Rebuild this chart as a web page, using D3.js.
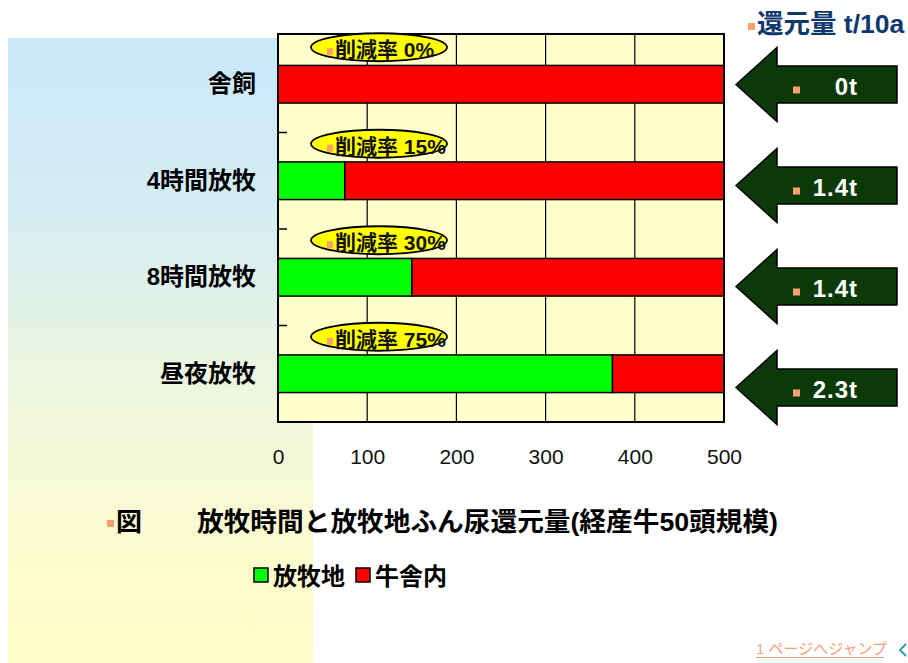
<!DOCTYPE html>
<html>
<head>
<meta charset="utf-8">
<script src="https://cdn.jsdelivr.net/npm/d3@7"></script>
<style>
  html, body { margin: 0; padding: 0; background: #ffffff; }
  svg { display: block; }
  text { font-family: "Liberation Sans", Arial, "Noto Sans CJK JP", sans-serif; }
</style>
</head>
<body>
<svg id="chart" width="908" height="663"></svg>
<script>
// Grazing hours vs. manure/urine returned to pasture (50 milking cows)
const categories = ["舎飼", "4時間放牧", "8時間放牧", "昼夜放牧"];
const pastureValues = [0, 75, 150, 375];     // 放牧地
const barnValues = [500, 425, 350, 125];     // 牛舎内
const returnLabels = ["0t", "1.4t", "1.4t", "2.3t"];
const xTicks = [0, 100, 200, 300, 400, 500];
const seriesNames = ["放牧地", "牛舎内"];
const seriesColors = ["#00ff00", "#ff0000"];

const svg = d3.select("#chart");
const CJK = '"Noto Sans CJK JP", "Liberation Sans", sans-serif';
const bulletColor = "#f8a070";

// Background panel with vertical gradient
const defs = svg.append("defs");
const grad = defs.append("linearGradient").attr("id", "panelGrad")
  .attr("x1", 0).attr("y1", 0).attr("x2", 0).attr("y2", 1);
grad.append("stop").attr("offset", "0%").attr("stop-color", "#cbe8fa");
grad.append("stop").attr("offset", "25%").attr("stop-color", "#d3ecf4");
grad.append("stop").attr("offset", "60%").attr("stop-color", "#f0f7dc");
grad.append("stop").attr("offset", "85%").attr("stop-color", "#fcfccc");
grad.append("stop").attr("offset", "100%").attr("stop-color", "#fdfdcb");
svg.append("rect").attr("x", 8).attr("y", 38).attr("width", 305).attr("height", 625)
  .attr("fill", "url(#panelGrad)");

// Scales
const x = d3.scaleLinear().domain([0, 500]).range([278, 724]);
const y = d3.scaleBand().domain(categories).range([36, 422])
  .paddingInner(0.61).paddingOuter(0.305);
const arrowY = d3.scaleBand().domain(categories).range([34, 438]);
const plotTop = 34, plotBottom = 422;

// Plot area
svg.append("rect").attr("x", x(0)).attr("y", plotTop)
  .attr("width", x(500) - x(0)).attr("height", plotBottom - plotTop)
  .attr("fill", "#ffffcc");

// Vertical gridlines
svg.append("g").selectAll("line").data(xTicks.slice(1, -1)).join("line")
  .attr("x1", d => x(d)).attr("x2", d => x(d))
  .attr("y1", plotTop).attr("y2", plotBottom)
  .attr("stroke", "#000").attr("stroke-width", 1.2);

// Category tick marks on the left axis (inside), at band boundaries
const step = y.step();
const boundaries = categories.slice(1).map(c => y(c) - (step - y.bandwidth()) / 2);
svg.append("g").selectAll("line").data(boundaries).join("line")
  .attr("x1", x(0)).attr("x2", x(0) + 9)
  .attr("y1", d => d).attr("y2", d => d)
  .attr("stroke", "#000").attr("stroke-width", 1.5);

// Stacked bars
const stackData = categories.map((c, i) => ({ cat: c, pasture: pastureValues[i], barn: barnValues[i] }));
const stacked = d3.stack().keys(["pasture", "barn"])(stackData);
svg.append("g").selectAll("g").data(stacked).join("g")
  .attr("fill", (d, i) => seriesColors[i])
  .selectAll("rect").data(d => d.filter(s => s[1] - s[0] > 0)).join("rect")
  .attr("x", d => x(d[0])).attr("width", d => x(d[1]) - x(d[0]))
  .attr("y", d => y(d.data.cat)).attr("height", y.bandwidth())
  .attr("stroke", "#000").attr("stroke-width", 1.5);

// Plot border
svg.append("rect").attr("x", x(0)).attr("y", plotTop)
  .attr("width", x(500) - x(0)).attr("height", plotBottom - plotTop)
  .attr("fill", "none").attr("stroke", "#000").attr("stroke-width", 2);

// X axis labels
const xAxis = d3.axisBottom(x).tickValues(xTicks).tickSize(0).tickPadding(0);
const xg = svg.append("g").attr("transform", `translate(0,${plotBottom})`).call(xAxis);
xg.select(".domain").remove();
xg.selectAll("text").attr("y", 42).attr("dy", null)
  .attr("font-family", '"Liberation Sans", Arial, sans-serif')
  .attr("font-size", 21).attr("fill", "#111");

// Category labels
svg.append("g").selectAll("text").data(categories).join("text")
  .attr("x", 256).attr("y", d => y(d) + y.bandwidth() / 2 + 8)
  .attr("text-anchor", "end").attr("font-family", CJK)
  .attr("font-weight", "bold").attr("font-size", 24).attr("fill", "#000")
  .text(d => d);

// Reduction-rate callouts
const callouts = svg.append("g").selectAll("g").data(categories).join("g")
  .attr("transform", d => `translate(${x(0) + 101},${y(d) + y.bandwidth() / 2 - 37})`);
callouts.append("ellipse").attr("rx", 68).attr("ry", 14)
  .attr("fill", "#ffff00").attr("stroke", "#000").attr("stroke-width", 1.8);
callouts.append("rect").attr("x", -52).attr("y", 1).attr("width", 6).attr("height", 7)
  .attr("fill", bulletColor);
callouts.append("text").attr("x", -44).attr("y", 10)
  .attr("font-family", CJK).attr("font-weight", "bold").attr("font-size", 21).attr("fill", "#111")
  .text((d, i) => {
    const rate = Math.round(pastureValues[i] / (pastureValues[i] + barnValues[i]) * 100);
    return `削減率 ${rate}%`;
  });

// Return-amount arrows
const arrows = svg.append("g").selectAll("g").data(categories).join("g")
  .attr("transform", d => `translate(0,${arrowY(d) + arrowY.bandwidth() / 2})`);
arrows.append("path")
  .attr("d", "M736,0 L777,-37 L777,-18.5 L897,-18.5 L897,18.5 L777,18.5 L777,37 Z")
  .attr("fill", "#0b3a08").attr("stroke", "#000").attr("stroke-width", 1.5);
arrows.append("rect").attr("x", 793).attr("y", 2).attr("width", 7).attr("height", 7)
  .attr("fill", bulletColor);
arrows.append("text").attr("x", 858).attr("y", 10).attr("text-anchor", "end")
  .attr("font-weight", "bold").attr("font-size", 24).attr("letter-spacing", 1)
  .attr("fill", "#ffffff")
  .text((d, i) => returnLabels[i]);

// Unit title (top right)
svg.append("rect").attr("x", 748).attr("y", 23).attr("width", 7).attr("height", 7).attr("fill", bulletColor);
svg.append("text").attr("x", 757).attr("y", 33)
  .attr("font-weight", "bold").attr("font-size", 26.5).attr("fill", "#0f386c")
  .attr("font-family", '"Liberation Sans", Arial, "Noto Sans CJK JP", sans-serif')
  .text("還元量 t/10a");

// Caption
svg.append("rect").attr("x", 107).attr("y", 520).attr("width", 7).attr("height", 7).attr("fill", bulletColor);
svg.append("text").attr("x", 116).attr("y", 531)
  .attr("font-family", CJK).attr("font-weight", "bold").attr("font-size", 26).attr("fill", "#000")
  .text("図");
svg.append("text").attr("x", 197).attr("y", 531)
  .attr("font-family", CJK).attr("font-weight", "bold").attr("font-size", 26.5).attr("fill", "#000")
  .attr("textLength", 581).attr("lengthAdjust", "spacingAndGlyphs")
  .text("放牧時間と放牧地ふん尿還元量(経産牛50頭規模)");

// Legend
const legendX = [254, 356];
const legend = svg.append("g").selectAll("g").data(seriesNames).join("g")
  .attr("transform", (d, i) => `translate(${legendX[i]},568)`);
legend.append("rect").attr("width", 14).attr("height", 14)
  .attr("fill", (d, i) => seriesColors[i]).attr("stroke", "#000").attr("stroke-width", 1.5);
legend.append("text").attr("x", 19).attr("y", 16.5)
  .attr("font-family", CJK).attr("font-weight", "bold").attr("font-size", 24).attr("fill", "#000")
  .text(d => d);

// Page link (bottom right)
svg.append("text").attr("x", 756).attr("y", 654)
  .attr("font-family", CJK).attr("font-size", 15).attr("fill", "#f4a07a")
  .text("1 ページへジャンプ");
svg.append("line").attr("x1", 756).attr("x2", 884).attr("y1", 657.5).attr("y2", 657.5)
  .attr("stroke", "#f4a07a").attr("stroke-width", 1);
svg.append("path").attr("d", "M906,644 L900,650 L906,656")
  .attr("fill", "none").attr("stroke", "#2a9d9d").attr("stroke-width", 1.8);
</script>
</body>
</html>
